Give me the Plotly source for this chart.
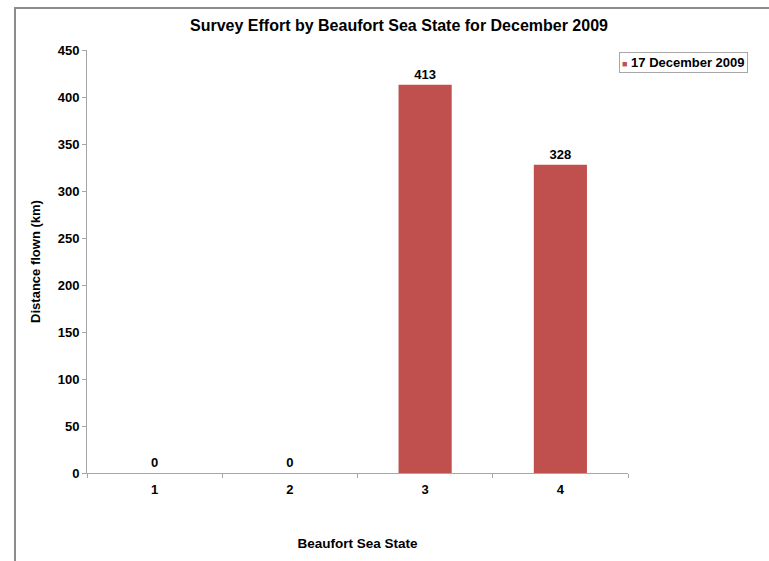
import plotly.graph_objects as go

categories = ["1", "2", "3", "4"]
distance_km = [0, 0, 413, 328]
series_name = "17 December 2009"
y_ticks = [0, 50, 100, 150, 200, 250, 300, 350, 400, 450]

FONT = "Liberation Sans, Arial, sans-serif"
BAR_COLOR = "#C0504D"
L, R, T, B = 87, 141, 50, 88
W, H = 769, 561
pw = W - L - R
ph = H - T - B


def px_x(p):
    return (p - L) / pw


def px_y(p):
    return (H - B - p) / ph


fig = go.Figure()
fig.add_trace(go.Bar(
    x=categories, y=distance_km, name=series_name,
    marker=dict(color=BAR_COLOR, line=dict(width=0)),
    texttemplate="<b>%{y}</b>", textposition="outside",
    textfont=dict(family=FONT, size=13, color="#000000"),
    cliponaxis=False, showlegend=False,
))

fig.update_layout(
    width=W, height=H,
    margin=dict(l=L, r=R, t=T, b=B),
    paper_bgcolor="white", plot_bgcolor="white",
    bargap=0.607,
    font=dict(family=FONT, size=13, color="#000000"),
    title=dict(text="<b>Survey Effort by Beaufort Sea State for December 2009</b>",
               x=px_x(399), xref="paper", xanchor="center",
               y=1 - 25 / H, yanchor="middle",
               font=dict(family=FONT, size=16, color="#000000")),
    xaxis=dict(
        title=dict(text="<b>Beaufort Sea State</b>", standoff=42,
                   font=dict(family=FONT, size=13.5)),
        tickvals=categories, ticktext=[f"<b>{c}</b>" for c in categories],
        showline=True, linecolor="#A6A6A6", linewidth=1,
        ticks="outside", tickson="boundaries", ticklen=4, tickcolor="#A6A6A6",
        ticklabelstandoff=4,
        tickfont=dict(family=FONT, size=13),
        showgrid=False, zeroline=False,
    ),
    yaxis=dict(
        title=dict(text="<b>Distance flown (km)</b>", standoff=14,
                   font=dict(family=FONT, size=13)),
        range=[0, 450], tickvals=y_ticks,
        ticktext=[f"<b>{v}</b>" for v in y_ticks],
        showline=True, linecolor="#A6A6A6", linewidth=1,
        ticks="outside", ticklen=4, tickcolor="#A6A6A6",
        showgrid=False, zeroline=False,
        tickfont=dict(family=FONT, size=13),
    ),
    annotations=[
        dict(xref="paper", yref="paper", x=px_x(748), y=px_y(52),
             xanchor="right", yanchor="top", showarrow=False,
             text=f"<span style='color:{BAR_COLOR};font-size:9px'>■</span> <b>{series_name}</b>",
             font=dict(family=FONT, size=13, color="#000000"),
             bordercolor="#A6A6A6", borderwidth=1, borderpad=2,
             bgcolor="white", align="left"),
    ],
    shapes=[
        dict(type="line", xref="paper", yref="paper",
             x0=px_x(14), x1=px_x(769), y0=px_y(8), y1=px_y(8),
             line=dict(color="#8C8C8C", width=2)),
        dict(type="line", xref="paper", yref="paper",
             x0=px_x(15), x1=px_x(15), y0=px_y(7), y1=px_y(561),
             line=dict(color="#8C8C8C", width=2)),
    ],
)

fig.write_html("out.html", config={"displayModeBar": False},
               post_script="document.body.style.margin='0px';")
